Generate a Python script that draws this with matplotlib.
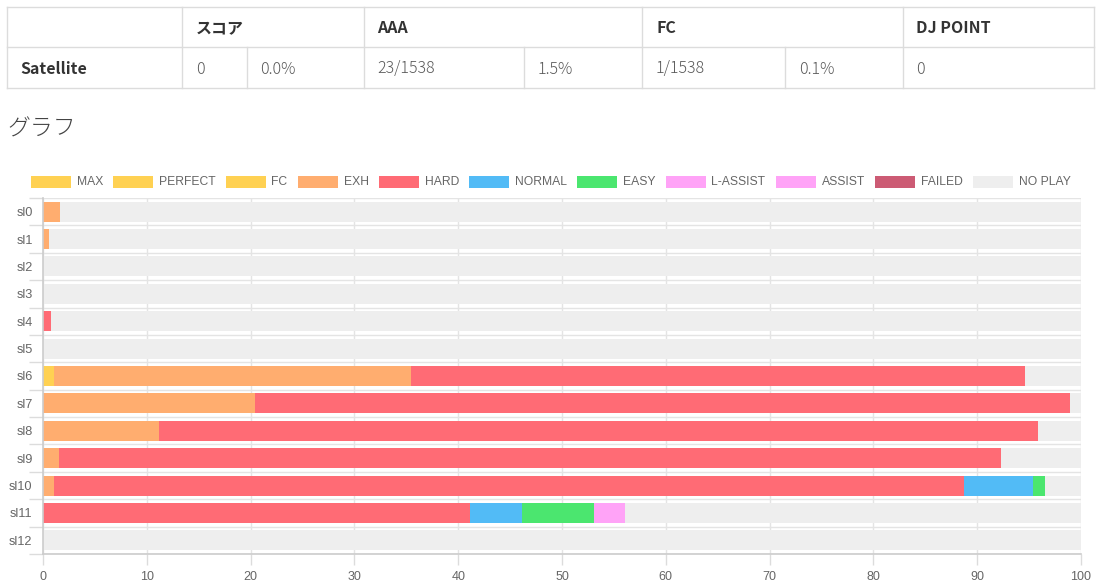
import matplotlib
matplotlib.use("Agg")
import matplotlib.pyplot as plt
from matplotlib.lines import Line2D
from matplotlib.patches import Rectangle
import numpy as np

# ---------------- data ----------------
table_header = ["", "スコア", "AAA", "FC", "DJ POINT"]
table_row = ["Satellite", "0", "0.0%", "23/1538", "1.5%", "1/1538", "0.1%", "0"]

levels = ["sl0", "sl1", "sl2", "sl3", "sl4", "sl5", "sl6", "sl7", "sl8", "sl9", "sl10", "sl11", "sl12"]
statuses = ["MAX", "PERFECT", "FC", "EXH", "HARD", "NORMAL", "EASY", "L-ASSIST", "ASSIST", "FAILED", "NO PLAY"]
colors = ["#ffd152", "#ffd152", "#ffd152", "#ffad6f", "#ff6b75", "#52bbf6", "#4be66f",
          "#ffa3f7", "#ffa3f7", "#cc5b74", "#eeeeee"]

MAX = [0, 0, 0, 0, 0, 0, 0, 0, 0, 0, 0, 0, 0]
PERFECT = [0, 0, 0, 0, 0, 0, 0, 0, 0, 0, 0, 0, 0]
FC = [0, 0, 0, 0, 0, 0, 1.1, 0, 0, 0, 0, 0, 0]
EXH = [1.6, 0.6, 0, 0, 0, 0, 34.4, 20.4, 11.2, 1.5, 1.1, 0, 0]
HARD = [0, 0, 0, 0, 0.8, 0, 59.1, 78.5, 84.7, 90.8, 87.6, 41.1, 0]
NORMAL = [0, 0, 0, 0, 0, 0, 0, 0, 0, 0, 6.7, 5.0, 0]
EASY = [0, 0, 0, 0, 0, 0, 0, 0, 0, 0, 1.1, 7.0, 0]
L_ASSIST = [0, 0, 0, 0, 0, 0, 0, 0, 0, 0, 0, 3.0, 0]
ASSIST = [0, 0, 0, 0, 0, 0, 0, 0, 0, 0, 0, 0, 0]
FAILED = [0, 0, 0, 0, 0, 0, 0, 0, 0, 0, 0, 0, 0]
NO_PLAY = [98.4, 99.4, 100, 100, 99.2, 100, 5.4, 1.1, 4.1, 7.7, 3.5, 43.9, 100]
series = [MAX, PERFECT, FC, EXH, HARD, NORMAL, EASY, L_ASSIST, ASSIST, FAILED, NO_PLAY]

x_ticks = [0, 10, 20, 30, 40, 50, 60, 70, 80, 90, 100]

# ---------------- figure ----------------
W, H = 1115, 587
fig = plt.figure(figsize=(W / 100, H / 100), dpi=100)
fig.patch.set_facecolor("white")

def fx(x):
    return x / W

def fy(y):
    return 1 - y / H

CJK = ["Noto Sans CJK JP", "DejaVu Sans"]
SANS = ["Liberation Sans", "DejaVu Sans"]
line_c = "#dcdcdc"

def hline(x0, x1, y):
    fig.add_artist(Line2D([fx(x0), fx(x1)], [fy(y), fy(y)], color=line_c, lw=1.0,
                          transform=fig.transFigure))

def vline(x, y0, y1):
    fig.add_artist(Line2D([fx(x), fx(x)], [fy(y0), fy(y1)], color=line_c, lw=1.0,
                          transform=fig.transFigure))

# table grid
t_left, t_right = 7, 1094
r0, r1, r2 = 7, 47, 88
for y in (r0, r1, r2):
    hline(t_left, t_right, y)
for x in (7, 182, 364, 642, 903, 1094):
    vline(x, r0, r2)
for x in (247, 524, 785):
    vline(x, r1, r2)

head_x = [20, 196, 377, 656, 916]
for txt, x in zip(table_header, head_x):
    if txt:
        fig.text(fx(x), fy(28), txt, fontsize=11.5, fontweight="bold", color="#333333",
                 family=CJK, ha="left", va="center")
row_x = [20, 196, 260, 377, 538, 656, 799, 916]
for i, (txt, x) in enumerate(zip(table_row, row_x)):
    fig.text(fx(x), fy(69), txt, fontsize=11.5, fontweight="bold" if i == 0 else "light",
             color="#333333" if i == 0 else "#5a5a5a", family=CJK, ha="left", va="center")

fig.text(fx(7), fy(129), "グラフ", fontsize=16.5, fontweight="light", color="#444444",
         family=CJK, ha="left", va="center")

# ---------------- chart ----------------
ax_l, ax_r, ax_t, ax_b = 43, 1081, 198, 554
ax = fig.add_axes([fx(ax_l), fy(ax_b), fx(ax_r - ax_l), (ax_b - ax_t) / H])
ypos = np.arange(len(levels))
left = np.zeros(len(levels))
for vals, col, name in zip(series, colors, statuses):
    v = np.array(vals, dtype=float)
    ax.barh(ypos, v, left=left, height=0.73, color=col, edgecolor="none", label=name, zorder=2)
    left += v

ax.set_xlim(0, 100)
ax.set_ylim(len(levels) - 0.5, -0.5)
ax.set_xticks(x_ticks)
ax.set_xticklabels([str(t) for t in x_ticks])
ax.set_yticks(ypos)
ax.set_yticklabels(levels)
ax.set_yticks(np.arange(-0.5, len(levels), 1.0), minor=True)
ax.tick_params(axis="y", which="major", length=0, pad=7.5, labelsize=9.2, labelcolor="#666666")
ax.tick_params(axis="y", which="minor", length=10, color=line_c, width=1)
ax.tick_params(axis="x", which="major", length=8, color=line_c, width=1, pad=4,
               labelsize=9, labelcolor="#666666")
for lab in ax.get_xticklabels() + ax.get_yticklabels():
    lab.set_family(SANS)
ax.grid(axis="x", which="major", color="#e4e4e4", lw=1, zorder=0)
ax.grid(axis="y", which="minor", color="#e4e4e4", lw=1, zorder=0)
ax.set_axisbelow(True)
for s in ("top", "right"):
    ax.spines[s].set_visible(False)
for s in ("left", "bottom"):
    ax.spines[s].set_color("#cccccc")
    ax.spines[s].set_linewidth(1.2)
ax.set_facecolor("white")

# ---------------- legend (Chart.js-like, manual) ----------------
renderer = fig.canvas.get_renderer()
leg_y = 182
leg_fs = 8.7
box_w, box_h = 40, 12
gap, pad = 6, 10
widths = []
for name in statuses:
    t = fig.text(0, 0, name, fontsize=leg_fs, family=SANS)
    bb = t.get_window_extent(renderer=renderer)
    widths.append(bb.width)
    t.remove()
item_w = [box_w + gap + w for w in widths]
total = sum(item_w) + pad * (len(statuses) - 1)
x = 550.5 - total / 2
for name, col, w in zip(statuses, colors, item_w):
    fig.add_artist(Rectangle((fx(x), fy(leg_y + box_h / 2)), fx(box_w), box_h / H,
                             facecolor=col, edgecolor="none", transform=fig.transFigure))
    fig.text(fx(x + box_w + gap), fy(leg_y), name, fontsize=leg_fs, color="#666666",
             family=SANS, ha="left", va="center")
    x += w + pad

fig.savefig("out.png", dpi=100, facecolor="white")
